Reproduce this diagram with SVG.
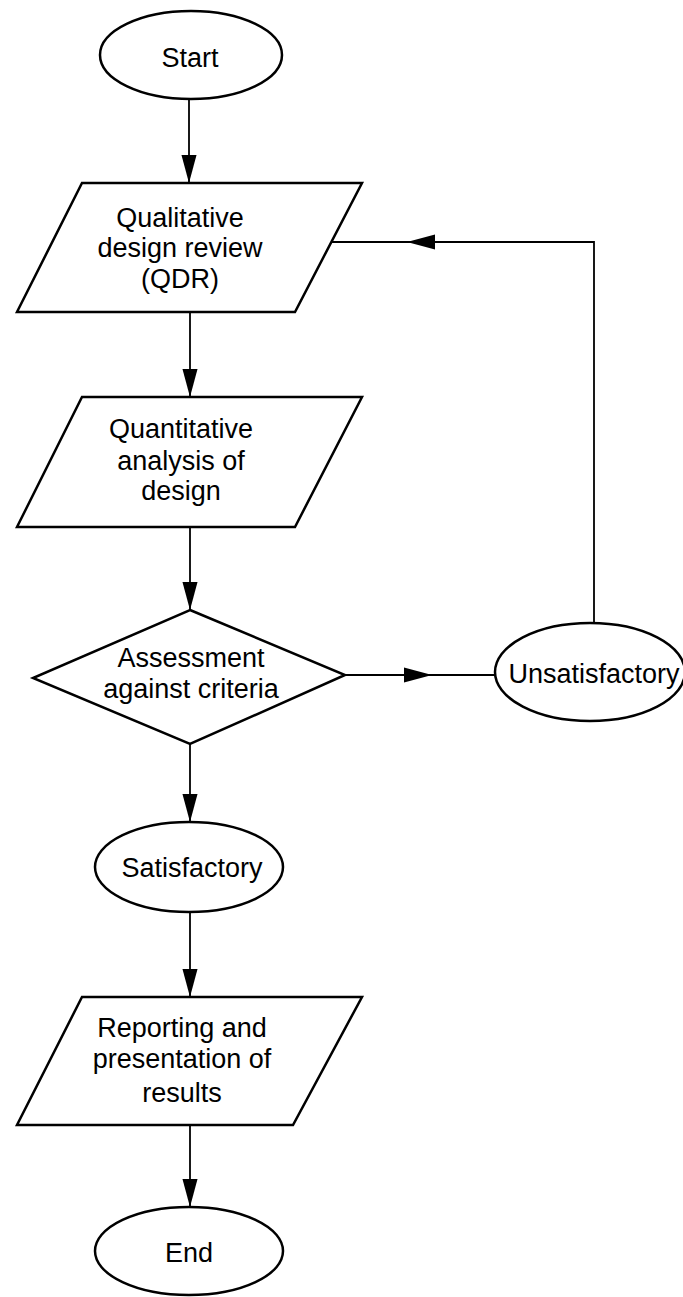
<svg xmlns="http://www.w3.org/2000/svg" width="683" height="1297" viewBox="0 0 683 1297">
  <style>
    .shape { fill: #ffffff; stroke: #000000; stroke-width: 2.5; stroke-linejoin: miter; }
    .conn { fill: none; stroke: #000000; stroke-width: 1.8; }
    .label { font-family: "Liberation Sans", Arial, Helvetica, sans-serif; font-size: 27px; fill: #000000; text-anchor: middle; }
  </style>
  <defs>
    <marker id="arrow" markerUnits="userSpaceOnUse" markerWidth="28" markerHeight="16" viewBox="0 0 26 14" refX="26" refY="7" orient="auto">
      <path d="M0,0 L26,7 L0,14 Z" fill="#000000"/>
    </marker>
  </defs>
  <rect width="683" height="1297" fill="#ffffff"/>

  <g id="connectors">
    <path class="conn" d="M189,99 V183" marker-end="url(#arrow)"/>
    <path class="conn" d="M190,312 V397" marker-end="url(#arrow)"/>
    <path class="conn" d="M190,527 V610" marker-end="url(#arrow)"/>
    <path class="conn" d="M190,744 V822" marker-end="url(#arrow)"/>
    <path class="conn" d="M190,912 V997" marker-end="url(#arrow)"/>
    <path class="conn" d="M190,1125 V1207" marker-end="url(#arrow)"/>
    <path class="conn" d="M345,675 H432" marker-end="url(#arrow)"/>
    <path class="conn" d="M430,675 H495"/>
    <path class="conn" d="M594,623 V242 H407" marker-end="url(#arrow)"/>
    <path class="conn" d="M409,242 H331"/>
  </g>

  <g id="start">
    <ellipse class="shape" cx="191" cy="55" rx="91" ry="44"/>
    <text class="label" x="190" y="67">Start</text>
  </g>

  <g id="qdr">
    <polygon class="shape" points="82,183 362,183 295,312 17,312"/>
    <text class="label" x="180" y="227">Qualitative</text>
    <text class="label" x="180" y="257">design review</text>
    <text class="label" x="180" y="288">(QDR)</text>
  </g>

  <g id="quantitative">
    <polygon class="shape" points="82,397 362,397 295,527 17,527"/>
    <text class="label" x="181" y="438">Quantitative</text>
    <text class="label" x="181" y="470">analysis of</text>
    <text class="label" x="181" y="500">design</text>
  </g>

  <g id="assessment">
    <polygon class="shape" points="190,610 345,675 190,744 33,678"/>
    <text class="label" x="191" y="667">Assessment</text>
    <text class="label" x="191" y="698">against criteria</text>
  </g>

  <g id="unsatisfactory">
    <ellipse class="shape" cx="590" cy="672" rx="95" ry="49"/>
    <text class="label" x="594" y="683">Unsatisfactory</text>
  </g>

  <g id="satisfactory">
    <ellipse class="shape" cx="189" cy="867" rx="94" ry="45"/>
    <text class="label" x="192" y="877">Satisfactory</text>
  </g>

  <g id="reporting">
    <polygon class="shape" points="82,997 362,997 293,1125 17,1125"/>
    <text class="label" x="182" y="1037">Reporting and</text>
    <text class="label" x="182" y="1068">presentation of</text>
    <text class="label" x="182" y="1102">results</text>
  </g>

  <g id="end">
    <ellipse class="shape" cx="189" cy="1251" rx="94" ry="44"/>
    <text class="label" x="189" y="1262">End</text>
  </g>
</svg>
